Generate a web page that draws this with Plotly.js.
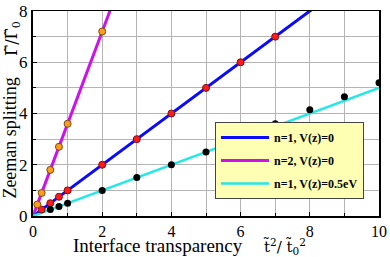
<!DOCTYPE html>
<html><head><meta charset="utf-8">
<script src="https://cdn.plot.ly/plotly-3.0.1.min.js"></script>
<style>html,body{margin:0;padding:0;background:#fff}#chart{width:390px;height:257px}</style>
</head><body><div id="chart"></div>
<script>
// theory lines
const lineN1X = [0, 10];
const lineN1Y = [0, 10];
const lineN2X = [0, 2.3];
const lineN2Y = [0, 8.28];
const lineVX = [0, 10];
const lineVY = [0, 5];
// numerical points
const redX = [0.25, 0.5, 0.75, 1, 2, 3, 4, 5, 6, 7];
const redY = [0.25, 0.5, 0.75, 1, 2, 3, 4, 5, 6, 7];
const orangeX = [0.125, 0.25, 0.5, 0.75, 1, 2];
const orangeY = [0.45, 0.9, 1.8, 2.7, 3.6, 7.2];
const blackX = [0.5, 0.75, 1, 2, 3, 4, 5, 6, 7, 8, 9, 10];
const blackY = [0.25, 0.37, 0.5, 1.0, 1.5, 2.0, 2.5, 3.05, 3.6, 4.15, 4.65, 5.2];
const legendNames = ['n=1, V(z)=0', 'n=2, V(z)=0', 'n=1, V(z)=0.5eV'];
const xTicks = [0, 2, 4, 6, 8, 10];
const yTicks = [0, 2, 4, 6, 8];

const serif = 'Liberation Serif, Times New Roman, serif';
const mathSerif = 'DejaVu Serif, serif';
const traces = [
  {x: lineN1X, y: lineN1Y, mode: 'lines', name: legendNames[0], legendgroup: 'a',
   line: {color: '#0a0aff', width: 3}},
  {x: lineN2X, y: lineN2Y, mode: 'lines', name: legendNames[1], legendgroup: 'b',
   line: {color: '#cc11ee', width: 3}},
  {x: lineVX, y: lineVY, mode: 'lines', name: legendNames[2], legendgroup: 'c',
   line: {color: '#22e8e8', width: 2.5}},
  {x: redX, y: redY, mode: 'markers', showlegend: false,
   marker: {color: '#ff1a1a', size: 7, line: {color: '#7a1010', width: 1}}},
  {x: orangeX, y: orangeY, mode: 'markers', showlegend: false,
   marker: {color: '#ff9d1a', size: 7, line: {color: '#7a4a10', width: 1}}},
  {x: blackX, y: blackY, mode: 'markers', showlegend: false,
   marker: {color: '#000', size: 7}}
];

const layout = {
  width: 390, height: 257,
  margin: {l: 33, r: 11, t: 11, b: 41},
  paper_bgcolor: '#fff', plot_bgcolor: '#fff',
  font: {family: serif, color: '#000'},
  xaxis: {
    range: [0, 10], tickvals: xTicks, ticktext: xTicks.map(String),
    showgrid: true, gridcolor: '#b4b4b4', gridwidth: 1,
    minor: {dtick: 1, showgrid: true, gridcolor: '#b4b4b4', gridwidth: 1, ticks: 'inside', ticklen: 3, tickcolor: '#000'},
    ticks: 'inside', ticklen: 4, tickcolor: '#000',
    showline: true, linecolor: '#000', linewidth: 1.5, mirror: true,
    zeroline: false, tickfont: {family: serif, size: 16}
  },
  yaxis: {
    range: [0, 8], tickvals: yTicks, ticktext: yTicks.map(String),
    showgrid: true, gridcolor: '#b4b4b4', gridwidth: 1,
    minor: {dtick: 1, showgrid: true, gridcolor: '#b4b4b4', gridwidth: 1, ticks: 'inside', ticklen: 3, tickcolor: '#000'},
    ticks: 'inside', ticklen: 4, tickcolor: '#000',
    showline: true, linecolor: '#000', linewidth: 2, mirror: true,
    zeroline: false, tickfont: {family: serif, size: 17}
  },
  showlegend: true,
  legend: {
    x: 0.526, y: 0.459, xanchor: 'left', yanchor: 'top',
    bgcolor: '#ffffb4', bordercolor: '#444', borderwidth: 1,
    font: {family: serif, size: 12, color: '#000', weight: 'bold'},
    itemwidth: 48, tracegroupgap: 4, traceorder: 'grouped'
  },
  annotations: [
    {text: 'Zeeman splitting', xref: 'paper', yref: 'paper', x: -0.065, y: 0.38,
     textangle: -90, showarrow: false, font: {family: serif, size: 18}, xanchor: 'center', yanchor: 'middle'},
    {text: 'Γ̃/Γ̃<sub>0</sub>', xref: 'paper', yref: 'paper', x: -0.06, y: 0.865,
     textangle: -90, showarrow: false, font: {family: mathSerif, size: 16}, xanchor: 'center', yanchor: 'middle'},
    {text: 'Interface transparency', xref: 'paper', yref: 'paper', x: 0.11, y: -0.145,
     showarrow: false, font: {family: serif, size: 19}, xanchor: 'left', yanchor: 'middle'},
    {text: 't̃<sup>2</sup>/ t̃<sub>0</sub><sup>2</sup>', xref: 'paper', yref: 'paper', x: 0.66, y: -0.15,
     showarrow: false, font: {family: mathSerif, size: 15}, xanchor: 'left', yanchor: 'middle'}
  ]
};
Plotly.newPlot('chart', traces, layout, {staticPlot: true, displayModeBar: false});
</script></body></html>
